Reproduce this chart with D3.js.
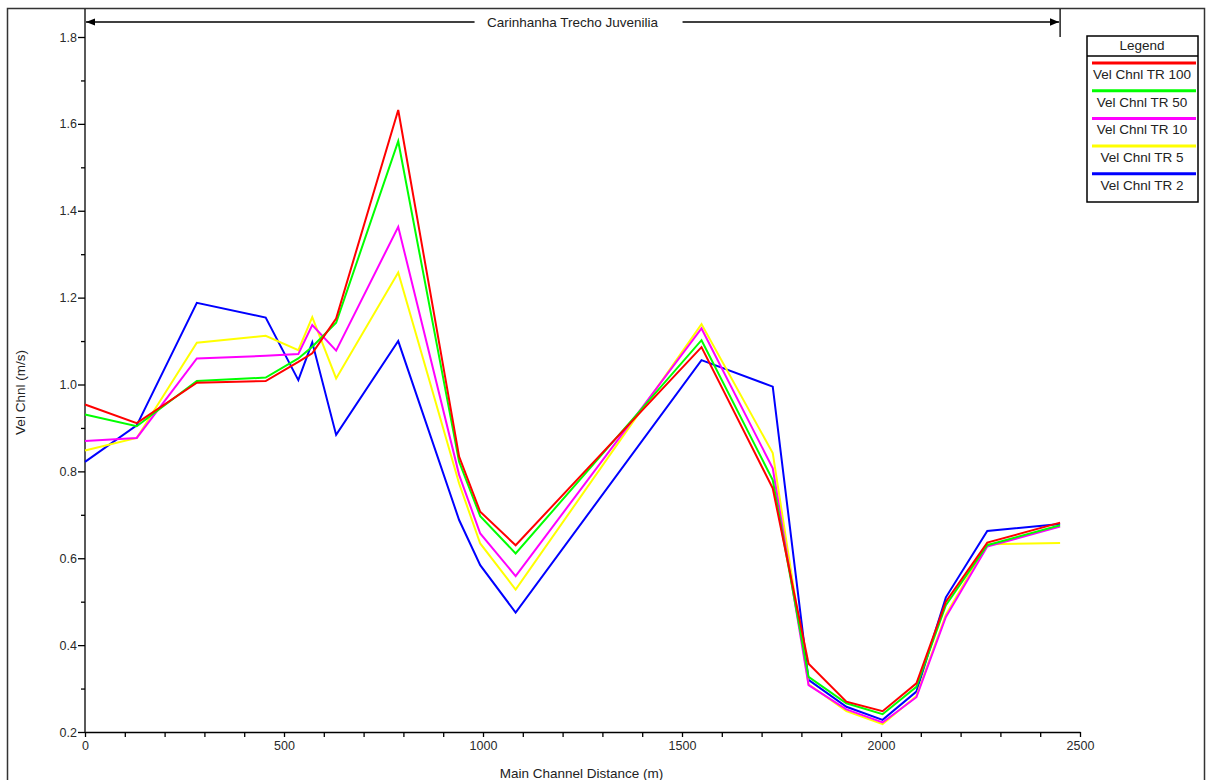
<!DOCTYPE html>
<html>
<head>
<meta charset="utf-8">
<title>Vel Chnl - Carinhanha Trecho Juvenilia</title>
<script src="https://d3js.org/d3.v7.min.js"></script>
<style>
  body { margin: 0; background: #fff; }
  text { font-family: "Liberation Sans", Arial, sans-serif; font-size: 13.5px; fill: #222; }
  .axis path, .axis line { stroke: #000; stroke-width: 1.3px; }
  .axis text { font-size: 12.5px; fill: #2a2a2a; }
  .series { fill: none; stroke-width: 2px; stroke-linejoin: miter; }
</style>
</head>
<body>
<svg width="1207" height="780"></svg>
<script>
// main channel stations (m)
const distance = [0, 130, 281, 454, 536, 571, 631, 787, 940, 993, 1082, 1549, 1728, 1818, 1913, 2004, 2089, 2163, 2267, 2450];

// channel velocity (m/s) per return period
const velTR100 = [0.954, 0.911, 1.004, 1.008, 1.052, 1.072, 1.152, 1.632, 0.834, 0.707, 0.630, 1.086, 0.761, 0.357, 0.270, 0.248, 0.312, 0.500, 0.636, 0.682];
const velTR50  = [0.931, 0.904, 1.008, 1.016, 1.060, 1.087, 1.142, 1.560, 0.822, 0.697, 0.611, 1.102, 0.780, 0.327, 0.266, 0.241, 0.304, 0.492, 0.630, 0.676];
const velTR10  = [0.870, 0.877, 1.060, 1.066, 1.070, 1.137, 1.078, 1.363, 0.792, 0.657, 0.559, 1.129, 0.807, 0.308, 0.252, 0.222, 0.280, 0.465, 0.627, 0.673];
const velTR5   = [0.848, 0.877, 1.096, 1.112, 1.079, 1.155, 1.014, 1.258, 0.772, 0.634, 0.528, 1.139, 0.842, 0.310, 0.248, 0.218, 0.283, 0.470, 0.632, 0.635];
const velTR2   = [0.822, 0.906, 1.188, 1.154, 1.010, 1.097, 0.884, 1.100, 0.688, 0.584, 0.475, 1.056, 0.995, 0.320, 0.258, 0.228, 0.293, 0.510, 0.663, 0.679];

const seriesNames = ["Vel Chnl TR 100", "Vel Chnl TR 50", "Vel Chnl TR 10", "Vel Chnl TR 5", "Vel Chnl TR 2"];
const seriesColors = ["#ff0000", "#00ff00", "#ff00ff", "#ffff00", "#0000ff"];
const seriesValues = [velTR100, velTR50, velTR10, velTR5, velTR2];

const xTicks = [0, 500, 1000, 1500, 2000, 2500];
const yTicks = [0.2, 0.4, 0.6, 0.8, 1.0, 1.2, 1.4, 1.6, 1.8];

const reachName = "Carinhanha Trecho Juvenilia";

const svg = d3.select("svg");

// plot area
const plotLeft = 85, plotRight = 1080, plotTop = 37, plotBottom = 732;

const x = d3.scaleLinear().domain([0, 2500]).range([plotLeft, plotRight]);
const y = d3.scaleLinear().domain([0.2, 1.8]).range([plotBottom, plotTop]);

// outer frame
svg.append("rect")
  .attr("x", 7.5).attr("y", 8.5)
  .attr("width", 1197).attr("height", 800)
  .attr("fill", "none").attr("stroke", "#333").attr("stroke-width", 1.5);

// y axis, minor ticks first
svg.append("g")
  .attr("class", "axis")
  .attr("transform", `translate(${plotLeft},0)`)
  .call(d3.axisLeft(y).tickValues(d3.range(0.3, 1.8, 0.2)).tickSize(4).tickFormat(""))
  .call(g => g.select(".domain").remove());

svg.append("g")
  .attr("class", "axis")
  .attr("transform", `translate(${plotLeft},0)`)
  .call(d3.axisLeft(y).tickValues(yTicks).tickSize(7).tickSizeOuter(0).tickFormat(d3.format(".1f")))
  .call(g => g.select(".domain").attr("d", `M0,${plotBottom}V9`))
  .call(g => g.selectAll("text").attr("x", -8));

// x axis
svg.append("g")
  .attr("class", "axis")
  .attr("transform", `translate(0,${plotBottom})`)
  .call(d3.axisBottom(x).tickValues(d3.range(100, 2500, 100).filter(d => d % 500 !== 0)).tickSize(5).tickFormat(""))
  .call(g => g.select(".domain").remove());

svg.append("g")
  .attr("class", "axis")
  .attr("transform", `translate(0,${plotBottom})`)
  .call(d3.axisBottom(x).tickValues(xTicks).tickSize(5).tickSizeOuter(0).tickFormat(d3.format("d")))
  .call(g => g.selectAll("text").attr("y", 9));

// axis titles
svg.append("text")
  .attr("x", (plotLeft + plotRight) / 2 - 1).attr("y", 778)
  .attr("text-anchor", "middle")
  .text("Main Channel Distance (m)");

svg.append("text")
  .attr("transform", `translate(25,${(plotTop + plotBottom) / 2 + 8}) rotate(-90)`)
  .attr("text-anchor", "middle")
  .attr("font-size", "12.5px")
  .text("Vel Chnl (m/s)");

// reach arrow on top
const arrowY = 22, reachEnd = x(2450);
svg.append("defs").append("marker")
  .attr("id", "arrow")
  .attr("viewBox", "0 0 10 10")
  .attr("refX", 10).attr("refY", 5)
  .attr("markerWidth", 7).attr("markerHeight", 7)
  .attr("orient", "auto-start-reverse")
  .append("path")
  .attr("d", "M0,1 L10,5 L0,9 Z")
  .attr("fill", "#000");

const titleW = 208;
const titleX = (plotLeft + reachEnd) / 2;
svg.append("line")
  .attr("x1", titleX - titleW / 2 + 6).attr("x2", plotLeft + 1)
  .attr("y1", arrowY).attr("y2", arrowY)
  .attr("stroke", "#000").attr("stroke-width", 1.3)
  .attr("marker-end", "url(#arrow)");
svg.append("line")
  .attr("x1", titleX + titleW / 2 + 6).attr("x2", reachEnd - 1)
  .attr("y1", arrowY).attr("y2", arrowY)
  .attr("stroke", "#000").attr("stroke-width", 1.3)
  .attr("marker-end", "url(#arrow)");
svg.append("line")
  .attr("x1", reachEnd).attr("x2", reachEnd)
  .attr("y1", 9).attr("y2", plotTop)
  .attr("stroke", "#000").attr("stroke-width", 1.3);
svg.append("text")
  .attr("x", titleX).attr("y", arrowY + 5)
  .attr("text-anchor", "middle")
  .text(reachName);

// series lines (TR 2 at the bottom, TR 100 on top)
const line = d3.line()
  .x((d, i) => x(distance[i]))
  .y(d => y(d));

const order = d3.range(seriesValues.length).reverse();
svg.append("g")
  .selectAll("path")
  .data(order)
  .join("path")
  .attr("class", "series")
  .attr("stroke", i => seriesColors[i])
  .attr("d", i => line(seriesValues[i]));

// legend
const lg = svg.append("g").attr("transform", "translate(1087,36)");
lg.append("rect")
  .attr("width", 111).attr("height", 166)
  .attr("fill", "#fff").attr("stroke", "#000").attr("stroke-width", 1.5);
lg.append("line")
  .attr("x1", 0).attr("x2", 111).attr("y1", 20).attr("y2", 20)
  .attr("stroke", "#000").attr("stroke-width", 1.5);
lg.append("text")
  .attr("x", 55).attr("y", 14)
  .attr("text-anchor", "middle")
  .text("Legend");

const item = lg.selectAll(".item")
  .data(seriesNames)
  .join("g")
  .attr("class", "item")
  .attr("transform", (d, i) => `translate(0,${27 + i * 27.7})`);
item.append("line")
  .attr("x1", 5).attr("x2", 109)
  .attr("stroke", (d, i) => seriesColors[i])
  .attr("stroke-width", 3);
item.append("text")
  .attr("x", 55).attr("y", 16)
  .attr("text-anchor", "middle")
  .text(d => d);
</script>
</body>
</html>
